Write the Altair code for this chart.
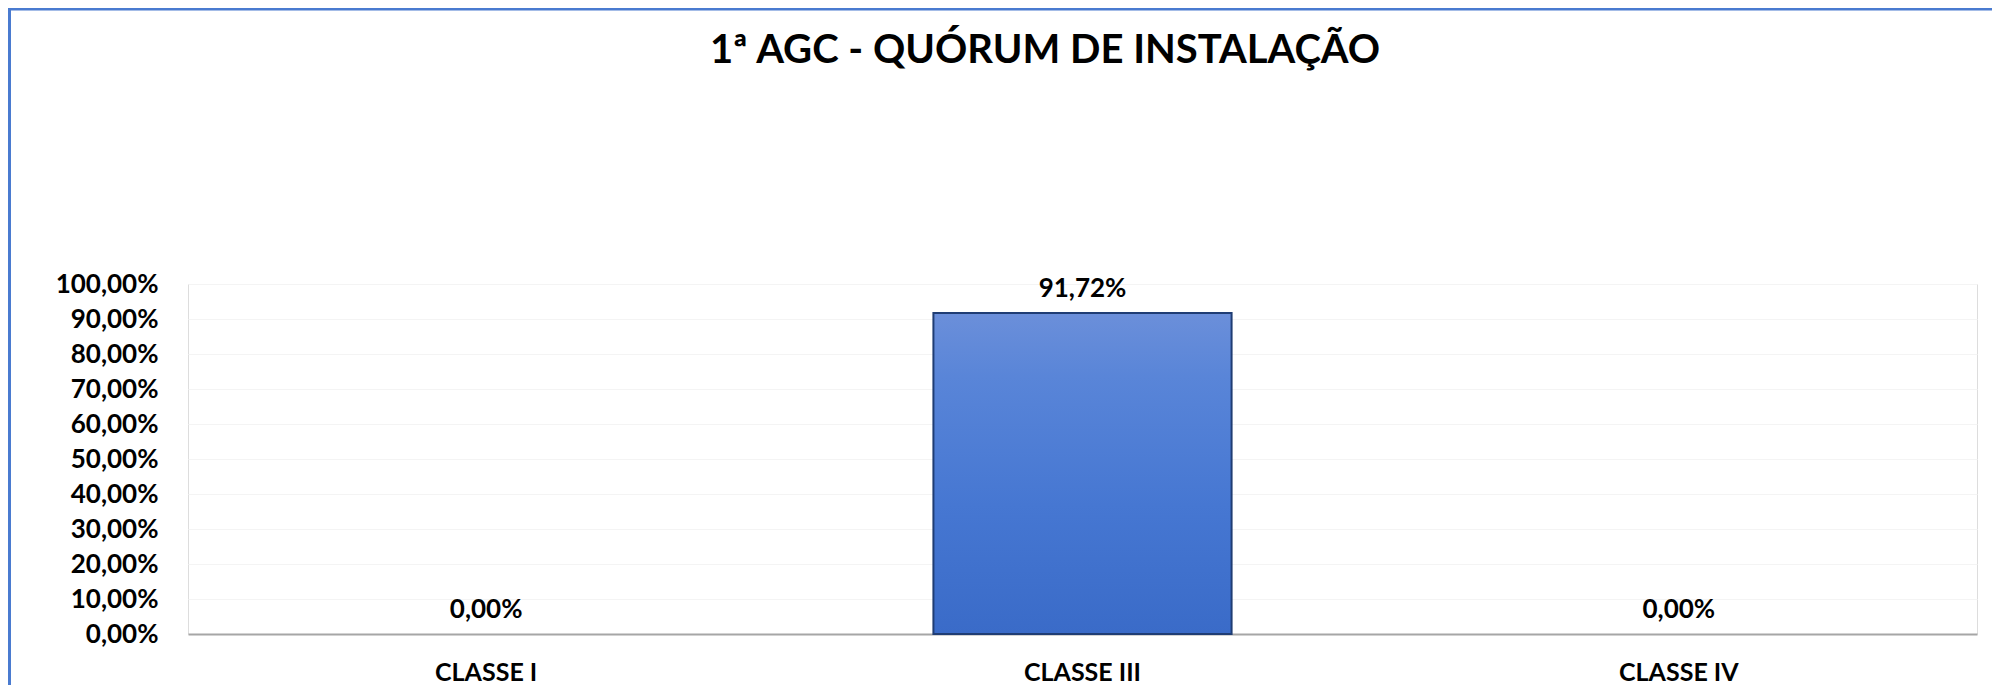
import altair as alt
import pandas as pd

categories = ["CLASSE I", "CLASSE III", "CLASSE IV"]
values = [0.0, 0.9172, 0.0]
y_ticks = [0.0, 0.1, 0.2, 0.3, 0.4, 0.5, 0.6, 0.7, 0.8, 0.9, 1.0]
title_text = ["1ª AGC - QUÓRUM DE INSTALAÇÃO"]

df = pd.DataFrame({"classe": categories, "valor": values})
df_title = pd.DataFrame({"t": title_text})

W, H = 1789, 350
FONT = "Lato"

x_enc = alt.X(
    "classe:N",
    sort=categories,
    scale=alt.Scale(paddingInner=0.5, paddingOuter=0.25),
    axis=alt.Axis(
        title=None, labelAngle=0, ticks=False, tickSize=0, labelPadding=46,
        labelBaseline="alphabetic", labelFont=FONT, labelFontWeight="bold",
        labelFontSize=25, labelColor="#000000", domainColor="#a6a6a6",
        domainWidth=2, grid=False, labelOverlap=False,
    ),
)
y_enc = alt.Y(
    "valor:Q",
    scale=alt.Scale(domain=[0, 1], nice=False, zero=True),
    axis=alt.Axis(
        title=None, values=y_ticks, ticks=False, tickSize=0,
        labelPadding=30, domain=False, labelFont=FONT, labelFontWeight="bold",
        labelFontSize=26, labelColor="#000000", labelBaseline="middle",
        labelOverlap=False, labelBound=False, labelSeparation=0,
        labelExpr="replace(format(datum.value, '.2%'), '.', ',')",
        grid=True, gridColor="#f4f4f4", gridWidth=1,
    ),
)

grad = alt.Gradient(
    gradient="linear",
    stops=[
        alt.GradientStop(color="#6b8fda", offset=0),
        alt.GradientStop(color="#5985d8", offset=0.2),
        alt.GradientStop(color="#4677d2", offset=0.6),
        alt.GradientStop(color="#3a6bc8", offset=1),
    ],
    x1=0, x2=0, y1=0, y2=1,
)

base = alt.Chart(df)

bars = base.mark_bar(fill=grad, stroke="#1f3d74", strokeWidth=2).encode(
    x=x_enc, y=y_enc
).transform_filter("datum.valor > 0")

labels = base.mark_text(
    font=FONT, fontWeight="bold", fontSize=26, color="#000000",
    baseline="alphabetic", dy=-16,
).transform_calculate(
    lbl="replace(format(datum.valor, '.2%'), '.', ',')"
).encode(
    x=x_enc,
    y=y_enc,
    text="lbl:N",
)

title_mark = alt.Chart(df_title).mark_text(
    font=FONT, fontWeight="bold", fontSize=40, color="#000000",
    baseline="alphabetic", align="center",
).encode(text="t:N", x=alt.value(857), y=alt.value(-221))

border_top = alt.Chart(df_title).mark_rule(color="#4a7bd0", strokeWidth=3).encode(
    x=alt.value(-180), x2=alt.value(W + 15), y=alt.value(-275)
)
border_left = alt.Chart(df_title).mark_rule(color="#4a7bd0", strokeWidth=3).encode(
    x=alt.value(-178.5), y=alt.value(-276), y2=alt.value(H + 51)
)

chart = alt.layer(bars, labels, title_mark, border_top, border_left).properties(
    width=W,
    height=H,
    autosize=alt.AutoSizeParams(type="none"),
    padding={"left": 180, "top": 276, "right": 15, "bottom": 51},
).configure_view(stroke=None).configure_axis(
    labelOverlap=False
).configure(background="#ffffff")

chart.save("out.html", embed_options={"renderer": "svg", "actions": False})
